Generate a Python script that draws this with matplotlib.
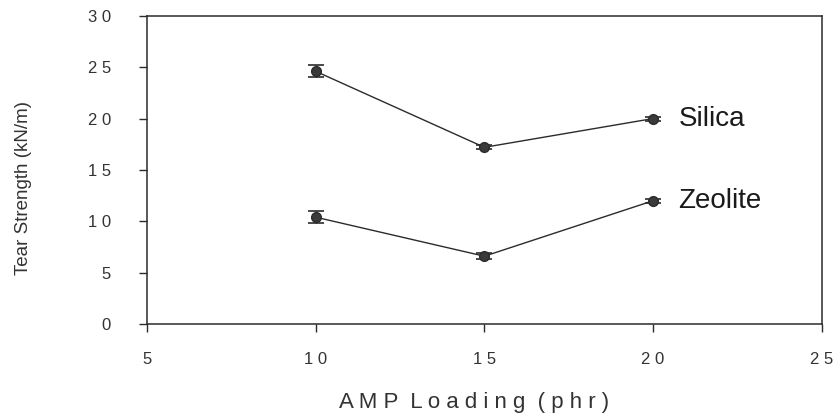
import numpy as np
import matplotlib
matplotlib.use("Agg")
import matplotlib.pyplot as plt

plt.rcParams['font.family'] = ['Liberation Sans', 'DejaVu Sans']

# AMP loading (phr)
loading = [10, 15, 20]

# tear strength (kN/m) and error bars
silica = [24.6, 17.2, 20.0]
silica_err = [0.6, 0.2, 0.2]
zeolite = [10.4, 6.6, 12.0]
zeolite_err = [0.6, 0.3, 0.2]

series_names = ['Silica', 'Zeolite']

xticks = [5, 10, 15, 20, 25]
xtick_labels = ['5', '1 0', '1 5', '2 0', '2 5']
yticks = [0, 5, 10, 15, 20, 25, 30]
ytick_labels = ['0', '5', '1 0', '1 5', '2 0', '2 5', '3 0']

col = '#2b2b2b'

fig = plt.figure(figsize=(8.33, 4.17), dpi=100)
ax = fig.add_axes([0.1765, 0.223, 0.81, 0.739])

for vals, errs, name in zip([silica, zeolite], [silica_err, zeolite_err], series_names):
    ax.errorbar(loading, vals, yerr=errs, color=col, lw=1.0, marker='o', ms=7,
                mfc='#3a3a3a', mec=col, capsize=6, capthick=1.2, elinewidth=1.0)
    # label next to the last point
    ax.text(loading[-1] + 0.75, vals[-1], name, fontsize=20, va='center', ha='left',
            color='#1a1a1a')

ax.set_xlim(5, 25)
ax.set_ylim(0, 30)
ax.set_xticks(xticks)
ax.set_xticklabels(xtick_labels)
ax.set_yticks(yticks)
ax.set_yticklabels(ytick_labels)

ax.tick_params(axis='both', direction='out', length=6, width=1, color=col,
               labelsize=12, labelcolor='#333333')
ax.tick_params(axis='x', pad=14)
ax.tick_params(axis='y', pad=20)

for s in ax.spines.values():
    s.set_color(col)
    s.set_linewidth(1.1)

ax.set_ylabel('Tear Strength (kN/m)', fontsize=13.5, color='#333333')
ax.set_xlabel('A M P  L o a d i n g  ( p h r )', fontsize=16, color='#333333')
ax.yaxis.set_label_coords(-0.17, 0.44)
ax.xaxis.set_label_coords(0.485, -0.255)
ax.xaxis.label.set_va('center')

fig.savefig('out.png', dpi=100)
